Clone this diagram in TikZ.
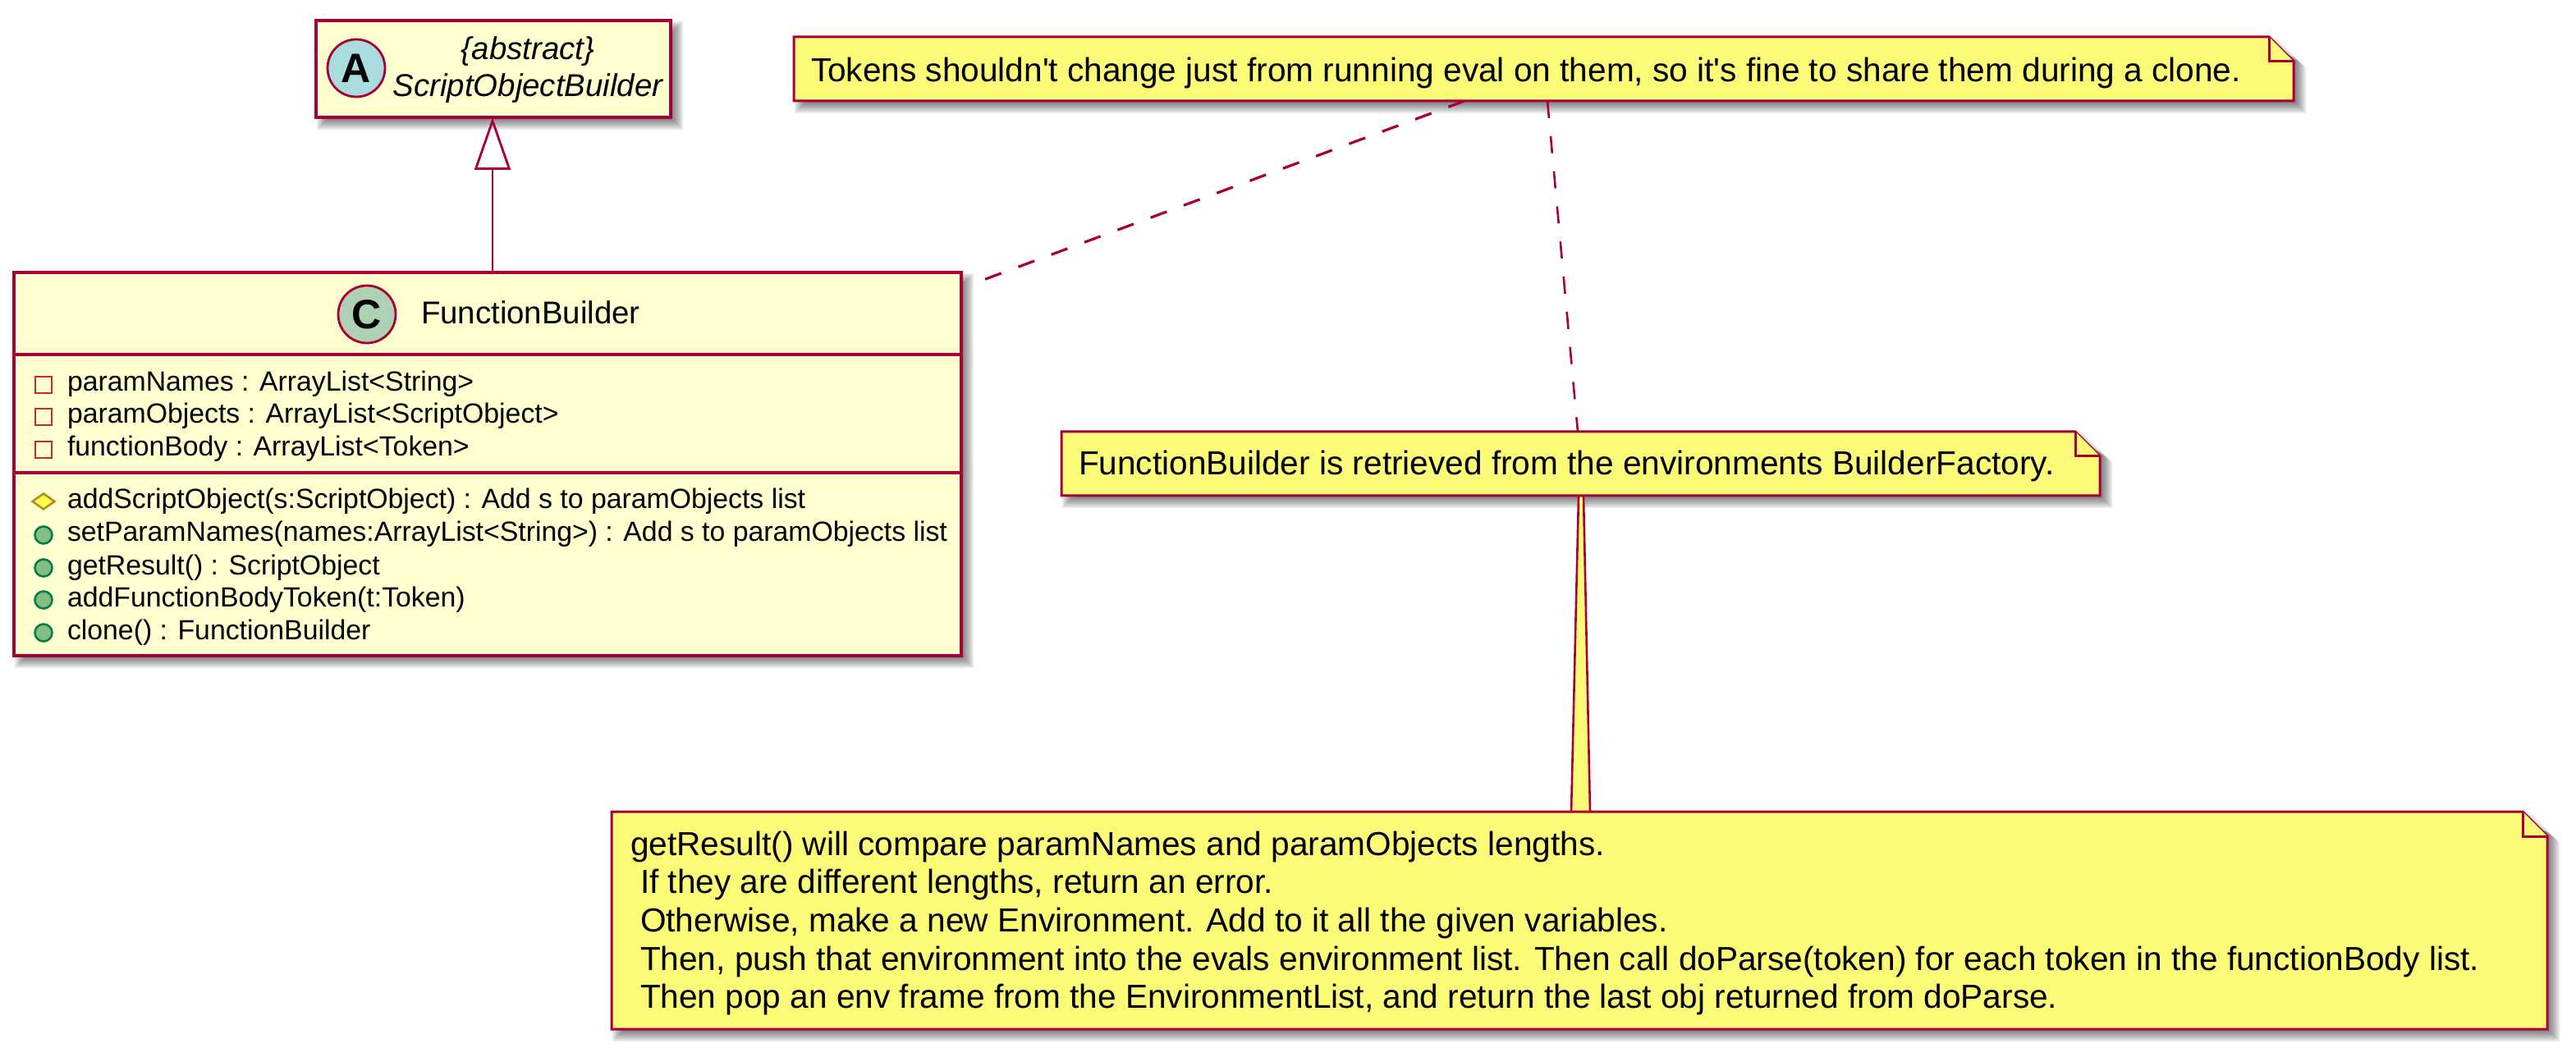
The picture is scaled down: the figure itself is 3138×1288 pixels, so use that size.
\documentclass[tikz,border=0pt]{standalone}
\usepackage{fontspec}
\newfontfamily\umlfont{Liberation Sans}
\usetikzlibrary{arrows.meta,shapes.geometric}
\definecolor{umlborder}{HTML}{A80036}
\definecolor{classfill}{HTML}{FEFECE}
\definecolor{notefill}{HTML}{FBFB77}
\definecolor{abscircle}{HTML}{A9DCDF}
\definecolor{clscircle}{HTML}{ADD1B2}
\definecolor{privred}{HTML}{C82930}
\definecolor{protfill}{HTML}{FFFF44}
\definecolor{protborder}{HTML}{B38D22}
\definecolor{pubfill}{HTML}{84BE84}
\definecolor{pubborder}{HTML}{038048}
\newcommand\boxshadow[4]{%
  \foreach \k in {0,...,7}{%
    \fill[black, opacity=0.085] ({#1+1+2*\k},{#2+1+2*\k}) rectangle ({#3+15-2*\k},{#4+15-2*\k});
  }}
\newcommand\noteshadow[4]{%
  \foreach \k in {0,...,7}{%
    \fill[black, opacity=0.085] ({#1+1+2*\k},{#2+1+2*\k}) -- ({#3-22-2*\k},{#2+1+2*\k}) -- ({#3+15-2*\k},{#2+38-2*\k}) -- ({#3+15-2*\k},{#4+15-2*\k}) -- ({#1+1+2*\k},{#4+15-2*\k}) -- cycle;
  }}
\newcommand\notebody[4]{%
  \filldraw[notebox] (#1,#2) -- ({#3-30},#2) -- (#3,{#2+30}) -- (#3,#4) -- (#1,#4) -- cycle;
  \draw[notebox] ({#3-30},#2) -- ({#3-30},{#2+30}) -- (#3,{#2+30});
}
\tikzset{
  lbl/.style={anchor=base west, inner sep=0pt, outer sep=0pt},
  attr/.style={lbl, font=\umlfont\fontsize{16.9}{19}\selectfont},
  notetxt/.style={lbl, font=\umlfont\fontsize{20.3}{23}\selectfont},
  hdr/.style={inner sep=0pt, outer sep=0pt, font=\umlfont\fontsize{19.2}{23}\selectfont},
  classbox/.style={draw=umlborder, fill=classfill, line width=1.9pt, anchor=north west, inner sep=0pt, outer sep=0pt},
  sepline/.style={draw=umlborder, line width=1.9pt},
  notebox/.style={draw=umlborder, fill=notefill, line width=1.5pt, line join=miter},
  badge/.style={circle, draw=umlborder, line width=1.4pt, minimum size=35pt, inner sep=0pt, font=\umlfont\bfseries\fontsize{25}{25}\selectfont},
  privicon/.style={rectangle, draw=privred, line width=1.4pt, minimum size=10pt, inner sep=0pt},
  proticon/.style={diamond, draw=protborder, fill=protfill, line width=1.3pt, minimum width=14pt, minimum height=10pt, inner sep=0pt},
  pubicon/.style={circle, draw=pubborder, fill=pubfill, line width=1.3pt, minimum size=10.5pt, inner sep=0pt},
  conn/.style={draw=umlborder, line width=1.4pt},
  dashconn/.style={draw=umlborder, line width=1.6pt, dash pattern=on 10.5pt off 11pt},
}
\begin{document}
\begin{tikzpicture}[x=0.5pt, y=-0.5pt]
\useasboundingbox (0,0) rectangle (3138,1288);
% shadows
\boxshadow{385}{25}{817}{143}
\boxshadow{17}{332}{1171}{799}
\noteshadow{967}{45}{2794}{123}
\noteshadow{1293}{526}{2558}{604}
\noteshadow{745}{989}{3103}{1254}

% connectors
\coordinate (inhtip) at (600,143);
\coordinate (inhfoot) at (600,332);
\draw[conn, -{Triangle[open, length=32pt, width=22pt, line width=1.4pt]}] (inhfoot) -- (inhtip);
\coordinate (n1a) at (1784,123);
\coordinate (fbend) at (1190,344);
\draw[dashconn] (n1a) -- (fbend);
\coordinate (n1b) at (1885,123);
\coordinate (n2top) at (1922,526);
\draw[dashconn, line width=1.3pt] (n1b) -- (n2top);
\coordinate (w1) at (1923,604);
\coordinate (w2) at (1929,604);
\coordinate (w3) at (1937,990);
\coordinate (w4) at (1914,990);
\filldraw[fill=notefill, draw=umlborder, line width=1.3pt] (w1) -- (w4) -- (w3) -- (w2) -- cycle;

% abstract class
\node[classbox, minimum width=216pt, minimum height=59pt] (sob) at (385,25) {};
\node[badge, fill=abscircle] (sobicon) at (434,83) {A};
\node[hdr, anchor=base, font=\umlfont\itshape\fontsize{19.2}{23}\selectfont] (sobst) at (643,73) {\{abstract\}};
\node[hdr, anchor=base, font=\umlfont\itshape\fontsize{19.2}{23}\selectfont] (sobname) at (643,118) {ScriptObjectBuilder};

% concrete class
\node[classbox, minimum width=577pt, minimum height=233.5pt] (fb) at (17,332) {};
\draw[sepline] (17,432) -- (1171,432);
\draw[sepline] (17,576) -- (1171,576);
\node[badge, fill=clscircle] (fbicon) at (447,383) {C};
\node[hdr, anchor=base west] (fbname) at (513,395) {FunctionBuilder};

\node[privicon] (i1) at (53,469) {};
\node[attr] (a1) at (82,477) {paramNames : ArrayList<String>};
\node[privicon] (i2) at (53,508) {};
\node[attr] (a2) at (82,516) {paramObjects : ArrayList<ScriptObject>};
\node[privicon] (i3) at (53,548) {};
\node[attr] (a3) at (82,556) {functionBody : ArrayList<Token>};

\node[proticon] (i4) at (53,611) {};
\node[attr] (m1) at (82,620) {addScriptObject(s:ScriptObject) : Add s to paramObjects list};
\node[pubicon] (i5) at (53,652) {};
\node[attr] (m2) at (82,660) {setParamNames(names:ArrayList<String>) : Add s to paramObjects list};
\node[pubicon] (i6) at (53,692) {};
\node[attr] (m3) at (82,700) {getResult() : ScriptObject};
\node[pubicon] (i7) at (53,731) {};
\node[attr] (m4) at (82,739) {addFunctionBodyToken(t:Token)};
\node[pubicon] (i8) at (53,771) {};
\node[attr] (m5) at (82,779) {clone() : FunctionBuilder};

% notes
\notebody{967}{45}{2794}{123}
\node[notetxt] (note1) at (988,100) {Tokens shouldn\textquotesingle t change just from running eval on them, so it\textquotesingle s fine to share them during a clone.};
\notebody{1293}{526}{2558}{604}
\node[notetxt] (note2) at (1314,579) {FunctionBuilder is retrieved from the environments BuilderFactory.};
\notebody{745}{989}{3103}{1254}
\node[notetxt] (note3a) at (768,1042) {getResult() will compare paramNames and paramObjects lengths.};
\node[notetxt] (note3b) at (780,1088) {If they are different lengths, return an error.};
\node[notetxt] (note3c) at (780,1135) {Otherwise, make a new Environment. Add to it all the given variables.};
\node[notetxt] (note3d) at (780,1182) {Then, push that environment into the evals environment list. Then call doParse(token) for each token in the functionBody list.};
\node[notetxt] (note3e) at (780,1228) {Then pop an env frame from the EnvironmentList, and return the last obj returned from doParse.};
\end{tikzpicture}
\end{document}
